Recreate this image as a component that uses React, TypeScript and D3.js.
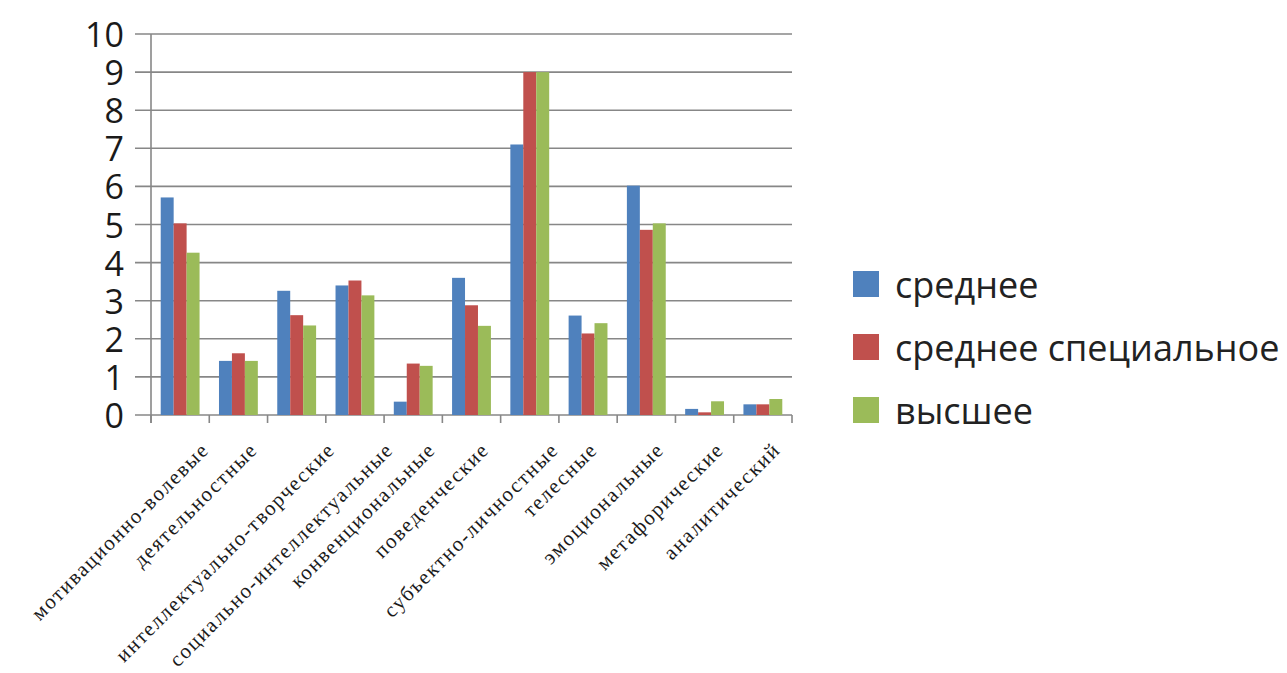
import React from "react";
import * as d3 from "d3";

const categories = [
  "мотивационно-волевые",
  "деятельностные",
  "интеллектуально-творческие",
  "социально-интеллектуальные",
  "конвенциональные",
  "поведенческие",
  "субъектно-личностные",
  "телесные",
  "эмоциональные",
  "метафорические",
  "аналитический",
];

const seriesNames = ["среднее", "среднее специальное", "высшее"];
const seriesColors = ["#4F81BD", "#C0504D", "#9BBB59"];

const srednee = [5.71, 1.42, 3.26, 3.4, 0.35, 3.6, 7.1, 2.61, 6.02, 0.16, 0.28];
const sredneeSpec = [5.03, 1.62, 2.62, 3.53, 1.35, 2.88, 9.0, 2.14, 4.86, 0.07, 0.28];
const vysshee = [4.26, 1.42, 2.35, 3.14, 1.29, 2.34, 9.0, 2.41, 5.03, 0.36, 0.42];

const seriesValues = [srednee, sredneeSpec, vysshee];
const yTicks = [0, 1, 2, 3, 4, 5, 6, 7, 8, 9, 10];

const W = 1287;
const H = 673;
const plot = { left: 151, right: 792, top: 34, bottom: 415 };

export default function App() {
  const x = d3
    .scaleBand<string>()
    .domain(categories)
    .range([plot.left, plot.right])
    .paddingInner(1 / 3)
    .paddingOuter(1 / 6);
  const step = x.step();
  const xs = d3
    .scaleBand<string>()
    .domain(seriesNames)
    .range([0, x.bandwidth()]);
  const y = d3.scaleLinear().domain([0, 10]).range([plot.bottom, plot.top]);

  const boundaries = d3.range(categories.length + 1).map((i) => plot.left + i * step);

  return (
    <div style={{ position: "absolute", left: 0, top: 0 }}>
      <svg width={W} height={H} style={{ display: "block", background: "#fff" }}>
        {/* gridlines */}
        {yTicks.map((t) => (
          <line
            key={"g" + t}
            x1={plot.left - 16}
            x2={plot.right}
            y1={y(t)}
            y2={y(t)}
            stroke="#878787"
            strokeWidth={1.6}
          />
        ))}
        {/* y axis */}
        <line x1={plot.left} x2={plot.left} y1={plot.top} y2={plot.bottom + 8} stroke="#878787" strokeWidth={1.6} />
        {/* x ticks */}
        {boundaries.map((bx, i) => (
          <line key={"xt" + i} x1={bx} x2={bx} y1={plot.bottom} y2={plot.bottom + 8} stroke="#878787" strokeWidth={1.6} />
        ))}
        {/* y tick labels */}
        {yTicks.map((t) => (
          <text
            key={"yl" + t}
            x={124}
            y={y(t)}
            textAnchor="end"
            dominantBaseline="central"
            fontFamily="'Open Sans', sans-serif"
            fontSize={34}
            fill="#1a1a1a"
          >
            {t}
          </text>
        ))}
        {/* bars */}
        {seriesValues.map((vals, si) =>
          vals.map((v, ci) => (
            <rect
              key={"b" + si + "-" + ci}
              x={(x(categories[ci]) as number) + (xs(seriesNames[si]) as number)}
              y={y(v)}
              width={xs.bandwidth()}
              height={plot.bottom - y(v)}
              fill={seriesColors[si]}
            />
          ))
        )}
        {/* category labels */}
        {categories.map((c) => {
          const cx = (x(c) as number) + x.bandwidth() / 2;
          const ax = cx + 1.6 * c.length - 2;
          const ay = 451;
          return (
            <text
              key={"cl" + c}
              x={ax}
              y={ay}
              textAnchor="end"
              transform={`rotate(-45, ${ax}, ${ay})`}
              fontFamily="'Liberation Serif', serif"
              fontSize={21}
              letterSpacing={1.6}
              fill="#1a1a1a"
            >
              {c}
            </text>
          );
        })}
        {/* legend */}
        {seriesNames.map((s, i) => {
          const ly = 284 + i * 63;
          return (
            <g key={"lg" + s}>
              <rect x={853} y={ly - 13} width={26} height={26} fill={seriesColors[i]} />
              <text
                x={895}
                y={ly}
                dominantBaseline="central"
                fontFamily="'Open Sans', sans-serif"
                fontSize={36}
                fill="#222"
              >
                {s}
              </text>
            </g>
          );
        })}
      </svg>
    </div>
  );
}
